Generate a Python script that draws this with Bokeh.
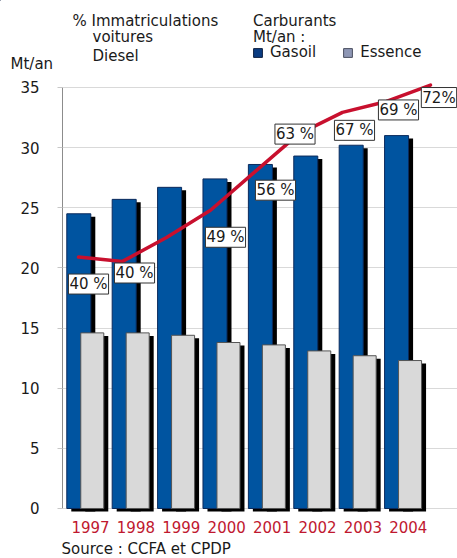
from bokeh.plotting import figure
from bokeh.layouts import column
from bokeh.models import Range1d, FixedTicker, Label, Legend, LegendItem, ColumnDataSource
from bokeh.transform import dodge
from bokeh.embed import file_html
from bokeh.resources import INLINE

# --- data -------------------------------------------------------------
years = [1997, 1998, 1999, 2000, 2001, 2002, 2003, 2004]
year_labels = ["1997", "1998", "1999", "2000", "2001", "2002", "2003", "2004"]
gasoil = [24.5, 25.7, 26.7, 27.4, 28.6, 29.3, 30.2, 31.0]      # Mt/an
essence = [14.6, 14.6, 14.4, 13.8, 13.6, 13.1, 12.7, 12.3]     # Mt/an
y_ticks = [0, 5, 10, 15, 20, 25, 30, 35]

diesel_years = [1997, 1998, 1999, 2000, 2001, 2002, 2003, 2004, 2005]
diesel_share = [40.4, 39.6, 44.0, 49, 56, 63, 67, 69, 72]       # % immatriculations
diesel_labels = ["40 %", "40 %", "", "49 %", "56 %", "63 %", "67 %", "69 %", "72%"]

# --- layout constants -------------------------------------------------
W = 457
HEAD_H, MAIN_H, FOOT_H = 76, 462, 20     # stacked panels, total 558
LEFT, MAIN_BOTTOM = 62, 26               # main frame borders in pixels
X_START, X_END = 1996.383, 2005.084      # bar axis
Y_START, Y_END = -0.333, 35.914          # Mt/an axis
PX_START, PX_END = 1996.636, 2005.614    # share line, horizontal
PY_START, PY_END = -6.55, 73.586         # share line, vertical (%)

FONT = "DejaVu Sans"
INK = "#1a1a1a"
BLUE, BLUE_EDGE = "#0054a0", "#0b2a5c"
GREY, GREY_EDGE = "#d9d9d9", "#555555"
RED = "#c8102e"

SHADOW_DX = 0.099
SHADOW_DY = 0.25
BASELINE_FIX = 5   # svg text sits this much below the requested baseline


def text_panel(height, top_px):
    """a bare figure whose coordinates are page pixels (y downwards)"""
    f = figure(width=W, height=height,
               x_range=Range1d(0, W), y_range=Range1d(top_px + height, top_px),
               x_axis_location=None, y_axis_location=None,
               output_backend="svg", toolbar_location=None,
               min_border=0, min_border_left=0, min_border_right=0,
               min_border_top=0, min_border_bottom=0, frame_align=False)
    f.grid.visible = False
    f.outline_line_color = None
    return f


def put_text(f, text, px, py_base, size="15px"):
    f.add_layout(Label(x=px, y=py_base - BASELINE_FIX, text=text, text_font=FONT,
                       text_font_size=size, text_color=INK,
                       text_align="left", text_baseline="alphabetic"))


# --- header: titles and legend -------------------------------------------
head = text_panel(HEAD_H, 0)
put_text(head, "% Immatriculations", 72, 25)
put_text(head, "voitures", 92, 41.5)
put_text(head, "Diesel", 92, 60)
put_text(head, "Carburants", 252.5, 25)
put_text(head, "Mt/an :", 252.5, 41)
put_text(head, "Mt/an", 10, 68)

# legend keys: a single off-view point each, only their style is shown
gas_key = head.vbar(x=[-50], top=[-50], bottom=[-50], width=1,
                    fill_color="#0a3c82", line_color="#0d1f40")
ess_key = head.vbar(x=[-50], top=[-50], bottom=[-50], width=1,
                    fill_color="#8e97b5", line_color="#4a4f60")
legend = Legend(items=[LegendItem(label="Gasoil", renderers=[gas_key]),
                       LegendItem(label="Essence", renderers=[ess_key])],
                orientation="horizontal", location=(252, HEAD_H - 61),
                glyph_width=11, glyph_height=11, label_standoff=7, spacing=26,
                padding=0, margin=0, label_height=16,
                label_text_font=FONT, label_text_font_size="15px",
                label_text_color=INK,
                border_line_color=None, background_fill_alpha=0)
head.add_layout(legend)

# --- main chart ---------------------------------------------------------
p = figure(width=W, height=MAIN_H,
           x_range=Range1d(X_START, X_END), y_range=Range1d(Y_START, Y_END),
           output_backend="svg", toolbar_location=None,
           min_border_left=LEFT, min_border_right=0,
           min_border_top=0, min_border_bottom=MAIN_BOTTOM, frame_align=False)
p.outline_line_color = None

p.extra_x_ranges = {"share_x": Range1d(PX_START, PX_END)}
p.extra_y_ranges = {"share": Range1d(PY_START, PY_END)}

p.xgrid.visible = False
p.ygrid.ticker = FixedTicker(ticks=y_ticks)
p.ygrid.grid_line_color = "#d9d9d9"

p.yaxis.ticker = FixedTicker(ticks=y_ticks)
p.yaxis.bounds = (0, 35)
p.yaxis.axis_line_color = "#8c8c8c"
p.yaxis.major_tick_line_color = "#c8c8c8"
p.yaxis.major_tick_out = 5
p.yaxis.major_tick_in = 0
p.yaxis.minor_tick_line_color = None
p.yaxis.major_label_standoff = 18
p.yaxis.major_label_text_font = FONT
p.yaxis.major_label_text_font_size = "15px"
p.yaxis.major_label_text_color = INK

p.xaxis.ticker = FixedTicker(ticks=years)
p.xaxis.major_label_overrides = dict(zip(years, year_labels))
p.xaxis.axis_line_color = None
p.xaxis.major_tick_line_color = None
p.xaxis.minor_tick_line_color = None
p.xaxis.major_label_standoff = 2
p.xaxis.major_label_text_font = FONT
p.xaxis.major_label_text_font_size = "15px"
p.xaxis.major_label_text_color = "#c0182f"

src = ColumnDataSource(dict(
    year=years,
    gasoil=gasoil,
    essence=essence,
    gasoil_sh=[v - SHADOW_DY for v in gasoil],
    essence_sh=[v - SHADOW_DY for v in essence],
))

GAS_OFF, GAS_W = -0.258, 0.529
ESS_OFF, ESS_W = 0.039, 0.507

p.vbar(x=dodge("year", GAS_OFF + SHADOW_DX, range=p.x_range), top="gasoil_sh",
       bottom=-SHADOW_DY, width=GAS_W, source=src,
       fill_color="black", line_color=None)
p.vbar(x=dodge("year", GAS_OFF, range=p.x_range), top="gasoil", bottom=0,
       width=GAS_W, source=src, fill_color=BLUE, line_color=BLUE_EDGE, line_width=1)
p.vbar(x=dodge("year", ESS_OFF + SHADOW_DX, range=p.x_range), top="essence_sh",
       bottom=-SHADOW_DY, width=ESS_W, source=src,
       fill_color="black", line_color=None)
p.vbar(x=dodge("year", ESS_OFF, range=p.x_range), top="essence", bottom=0,
       width=ESS_W, source=src, fill_color=GREY, line_color=GREY_EDGE, line_width=1)

p.line(x=diesel_years, y=diesel_share, x_range_name="share_x", y_range_name="share",
       line_color=RED, line_width=3.5, line_join="round", line_cap="round")

# label offsets in pixels (right, down) from each point of the line
label_dx = [10, 12, 0, 15, 21, -3.5, 12, 12, 8.5]
label_dy = [27, 11.6, 0, 27, 18, 0, 18, 8.5, 12.4]
for yr, val, txt, dx, dy in zip(diesel_years, diesel_share, diesel_labels, label_dx, label_dy):
    if not txt:
        continue
    p.add_layout(Label(x=yr, y=val, x_range_name="share_x", y_range_name="share",
                       x_offset=dx, y_offset=-dy, text=txt,
                       text_font=FONT, text_font_size="15px", text_color=INK,
                       text_align="center", text_baseline="middle",
                       background_fill_color="white", border_line_color="#333333",
                       border_line_width=1, padding=1))

# --- footer -------------------------------------------------------------
foot = text_panel(FOOT_H, HEAD_H + MAIN_H)
put_text(foot, "Source : CCFA et CPDP", 61, 553)

layout = column(head, p, foot, spacing=0)
open("out.html", "w").write(file_html(layout, INLINE))
